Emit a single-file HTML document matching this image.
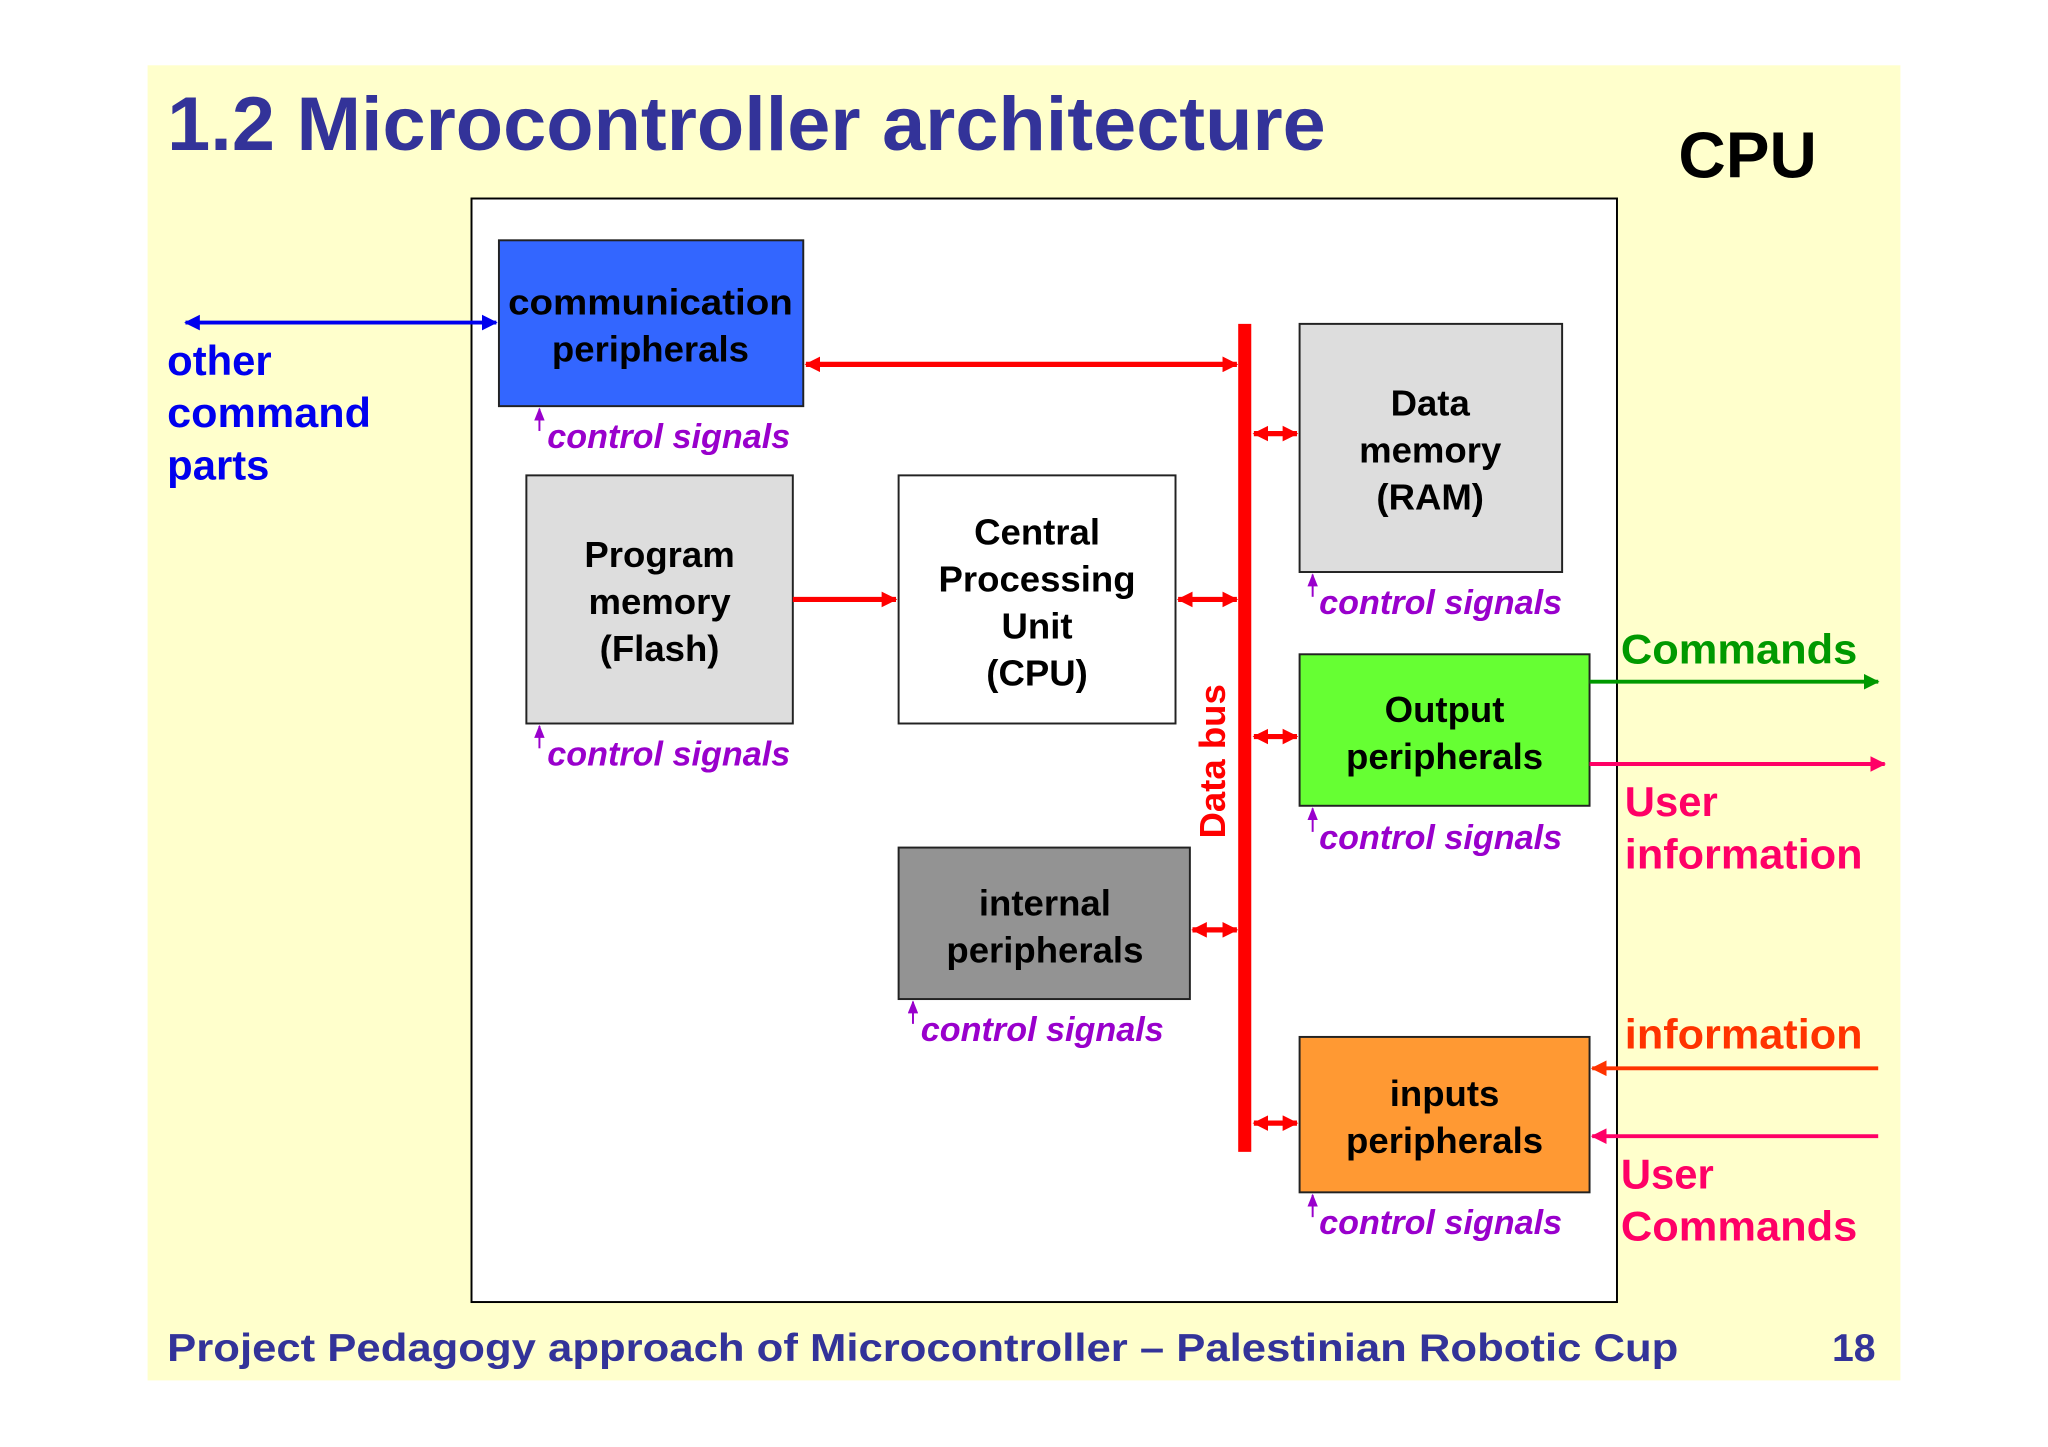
<!DOCTYPE html>
<html><head><meta charset="utf-8"><style>
html,body{margin:0;padding:0;background:#fff;}
svg{display:block;}
text{font-family:"Liberation Sans",sans-serif;font-weight:bold;}
.c{text-anchor:middle;font-size:28px;fill:#000;}
.cs{font-size:26px;font-style:italic;fill:#9900cc;}
</style></head><body>
<svg width="2048" height="1447" viewBox="0 0 1568 1108" preserveAspectRatio="none" xmlns="http://www.w3.org/2000/svg">
<defs>
<marker id="ar" markerWidth="12" markerHeight="12" refX="11" refY="6" orient="auto-start-reverse" markerUnits="userSpaceOnUse"><path d="M0,0L12,6L0,12z" fill="#ff0000"/></marker>
<marker id="ab" markerWidth="12" markerHeight="12" refX="11" refY="6" orient="auto-start-reverse" markerUnits="userSpaceOnUse"><path d="M0,0L12,6L0,12z" fill="#0000ee"/></marker>
<marker id="ag" markerWidth="12" markerHeight="12" refX="11" refY="6" orient="auto" markerUnits="userSpaceOnUse"><path d="M0,0L12,6L0,12z" fill="#009900"/></marker>
<marker id="ap" markerWidth="12" markerHeight="12" refX="11" refY="6" orient="auto" markerUnits="userSpaceOnUse"><path d="M0,0L12,6L0,12z" fill="#ff0066"/></marker>
<marker id="ao" markerWidth="12" markerHeight="12" refX="11" refY="6" orient="auto" markerUnits="userSpaceOnUse"><path d="M0,0L12,6L0,12z" fill="#ff3300"/></marker>
<marker id="av" markerWidth="8" markerHeight="10" refX="4" refY="1" orient="0" markerUnits="userSpaceOnUse"><path d="M0,10L4,0L8,10z" fill="#9900cc"/></marker>
</defs>
<rect x="113" y="50" width="1342" height="1007" fill="#ffffcc"/>
<text x="128" y="115" font-size="58" fill="#333399" textLength="887" lengthAdjust="spacingAndGlyphs">1.2 Microcontroller architecture</text>
<text x="1285" y="136" font-size="50" fill="#000" textLength="106" lengthAdjust="spacingAndGlyphs">CPU</text>
<rect x="361" y="152" width="877" height="845" fill="#fff" stroke="#000" stroke-width="1.5"/>

<rect x="382" y="184" width="233" height="127" fill="#3366ff" stroke="#222" stroke-width="1.5"/>
<text class="c" x="498" y="241" textLength="218" lengthAdjust="spacingAndGlyphs">communication</text><text class="c" x="498" y="277">peripherals</text>
<line x1="142" y1="247" x2="380" y2="247" stroke="#0000ee" stroke-width="3" marker-start="url(#ab)" marker-end="url(#ab)"/>
<text x="128" y="287" font-size="32" fill="#0000ee">other</text>
<text x="128" y="327" font-size="32" fill="#0000ee" textLength="156" lengthAdjust="spacingAndGlyphs">command</text>
<text x="128" y="367" font-size="32" fill="#0000ee">parts</text>

<rect x="948" y="248" width="10" height="634" fill="#ff0000"/>
<line x1="617" y1="279" x2="947" y2="279" stroke="#ff0000" stroke-width="4" marker-start="url(#ar)" marker-end="url(#ar)"/>

<rect x="995" y="248" width="201" height="190" fill="#dddddd" stroke="#222" stroke-width="1.5"/>
<text class="c" x="1095" y="318">Data</text><text class="c" x="1095" y="354">memory</text><text class="c" x="1095" y="390">(RAM)</text>
<line x1="960" y1="332" x2="993" y2="332" stroke="#ff0000" stroke-width="4" marker-start="url(#ar)" marker-end="url(#ar)"/>

<rect x="403" y="364" width="204" height="190" fill="#dddddd" stroke="#222" stroke-width="1.5"/>
<text class="c" x="505" y="434">Program</text><text class="c" x="505" y="470">memory</text><text class="c" x="505" y="506">(Flash)</text>
<rect x="688" y="364" width="212" height="190" fill="#fff" stroke="#222" stroke-width="1.5"/>
<text class="c" x="794" y="417">Central</text><text class="c" x="794" y="453">Processing</text><text class="c" x="794" y="489">Unit</text><text class="c" x="794" y="525">(CPU)</text>
<line x1="607" y1="459" x2="686" y2="459" stroke="#ff0000" stroke-width="4" marker-end="url(#ar)"/>
<line x1="902" y1="459" x2="947" y2="459" stroke="#ff0000" stroke-width="4" marker-start="url(#ar)" marker-end="url(#ar)"/>

<rect x="995" y="501" width="222" height="116" fill="#66ff33" stroke="#222" stroke-width="1.5"/>
<text class="c" x="1106" y="553">Output</text><text class="c" x="1106" y="589">peripherals</text>
<line x1="960" y1="564" x2="993" y2="564" stroke="#ff0000" stroke-width="4" marker-start="url(#ar)" marker-end="url(#ar)"/>

<rect x="688" y="649" width="223" height="116" fill="#939393" stroke="#222" stroke-width="1.5"/>
<text class="c" x="800" y="701">internal</text><text class="c" x="800" y="737">peripherals</text>
<line x1="913" y1="712" x2="947" y2="712" stroke="#ff0000" stroke-width="4" marker-start="url(#ar)" marker-end="url(#ar)"/>

<rect x="995" y="794" width="222" height="119" fill="#ff9933" stroke="#222" stroke-width="1.5"/>
<text class="c" x="1106" y="847">inputs</text><text class="c" x="1106" y="883">peripherals</text>
<line x1="960" y1="860" x2="993" y2="860" stroke="#ff0000" stroke-width="4" marker-start="url(#ar)" marker-end="url(#ar)"/>

<text x="0" y="0" font-size="28" fill="#ff0000" text-anchor="middle" transform="translate(938,583) rotate(-90)">Data bus</text>

<g stroke="#9900cc" stroke-width="1.5">
<line x1="413" y1="330" x2="413" y2="313" marker-end="url(#av)"/>
<line x1="413" y1="573" x2="413" y2="556" marker-end="url(#av)"/>
<line x1="1005" y1="457" x2="1005" y2="440" marker-end="url(#av)"/>
<line x1="1005" y1="637" x2="1005" y2="619" marker-end="url(#av)"/>
<line x1="699" y1="784" x2="699" y2="767" marker-end="url(#av)"/>
<line x1="1005" y1="932" x2="1005" y2="915" marker-end="url(#av)"/>
</g>
<text class="cs" x="419" y="343" textLength="186" lengthAdjust="spacingAndGlyphs">control signals</text>
<text class="cs" x="419" y="586" textLength="186" lengthAdjust="spacingAndGlyphs">control signals</text>
<text class="cs" x="1010" y="470" textLength="186" lengthAdjust="spacingAndGlyphs">control signals</text>
<text class="cs" x="1010" y="650" textLength="186" lengthAdjust="spacingAndGlyphs">control signals</text>
<text class="cs" x="705" y="797" textLength="186" lengthAdjust="spacingAndGlyphs">control signals</text>
<text class="cs" x="1010" y="945" textLength="186" lengthAdjust="spacingAndGlyphs">control signals</text>

<text x="1241" y="508" font-size="32" fill="#009900" textLength="181" lengthAdjust="spacingAndGlyphs">Commands</text>
<line x1="1217" y1="522" x2="1438" y2="522" stroke="#009900" stroke-width="3" marker-end="url(#ag)"/>
<line x1="1217" y1="585" x2="1443" y2="585" stroke="#ff0066" stroke-width="3" marker-end="url(#ap)"/>
<text x="1244" y="625" font-size="32" fill="#ff0066">User</text>
<text x="1244" y="665" font-size="32" fill="#ff0066" textLength="182" lengthAdjust="spacingAndGlyphs">information</text>
<text x="1244" y="803" font-size="32" fill="#ff3300" textLength="182" lengthAdjust="spacingAndGlyphs">information</text>
<line x1="1438" y1="818" x2="1219" y2="818" stroke="#ff3300" stroke-width="3" marker-end="url(#ao)"/>
<line x1="1438" y1="870" x2="1219" y2="870" stroke="#ff0066" stroke-width="3" marker-end="url(#ap)"/>
<text x="1241" y="910" font-size="32" fill="#ff0066">User</text>
<text x="1241" y="950" font-size="32" fill="#ff0066" textLength="181" lengthAdjust="spacingAndGlyphs">Commands</text>

<text x="128" y="1042" font-size="30" fill="#333399" textLength="1157" lengthAdjust="spacingAndGlyphs">Project Pedagogy approach of Microcontroller – Palestinian Robotic Cup</text>
<text x="1436" y="1042" font-size="30" fill="#333399" text-anchor="end">18</text>
</svg>
</body></html>
